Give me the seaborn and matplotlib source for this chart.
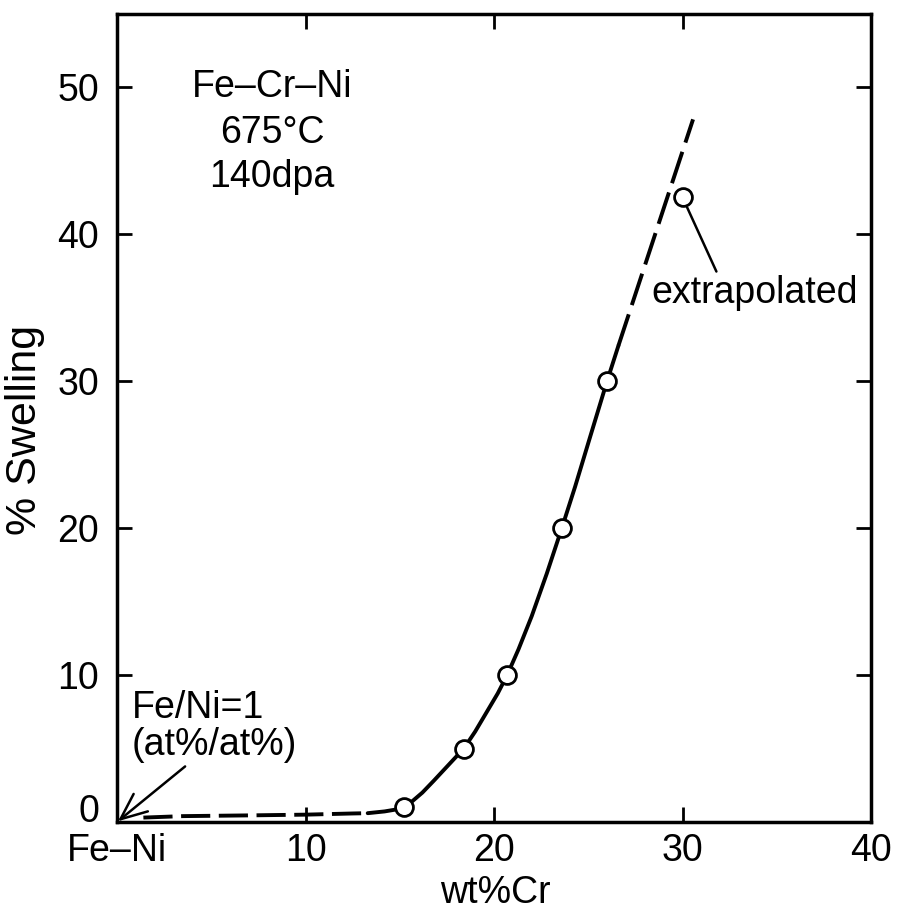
import matplotlib
matplotlib.use("Agg")
import matplotlib.pyplot as plt
import seaborn as sns
import pandas as pd

# Measured swelling of Fe-Cr-Ni alloys (675 C, 140 dpa)
cr_wt = [15.2, 18.4, 20.7, 23.6, 26.0]
swelling = [1.0, 5.0, 10.0, 20.0, 30.0]

# Extrapolated value
extrap_cr = [30.0]
extrap_swelling = [42.5]

# Hand-drawn trend curve: dashed low-Cr part, solid fitted part, dashed extension
low_cr = [1.4, 3.5, 7.0, 10.0, 12.5, 13.3]
low_sw = [0.30, 0.40, 0.45, 0.50, 0.58, 0.60]
fit_cr = [13.3, 14.2, 14.8, 15.2, 15.7, 16.2, 16.8, 17.6, 18.4, 19.0, 19.6,
          20.2, 20.7, 21.3, 22.0, 22.8, 23.6, 24.3, 25.1, 26.0, 26.6]
fit_sw = [0.60, 0.72, 0.85, 1.0, 1.45, 2.0, 2.8, 3.9, 5.0, 6.15, 7.45,
          8.75, 10.0, 11.75, 14.0, 16.9, 20.0, 22.8, 26.2, 30.0, 32.4]
ext_cr = [26.6, 30.56]
ext_sw = [32.4, 47.8]

x_ticks = [0, 10, 20, 30, 40]
x_tick_labels = ["Fe\u2013Ni", "10", "20", "30", "40"]
y_ticks = [0, 10, 20, 30, 40, 50]

condition_lines = ["Fe\u2013Cr\u2013Ni", "675\u00b0C", "140dpa"]

sns.set_style("ticks")
plt.rcParams["font.family"] = ["Liberation Sans", "DejaVu Sans"]
plt.rcParams.update({"text.color": "black", "axes.labelcolor": "black",
                     "xtick.color": "black", "ytick.color": "black"})

fig = plt.figure(figsize=(8.98, 9.14), dpi=100)
ax = fig.add_axes([117 / 898, 1 - 822 / 914, 754 / 898, 808.5 / 914])

lw = 2.8
low_df = pd.DataFrame({"cr": low_cr, "sw": low_sw})
fit_df = pd.DataFrame({"cr": fit_cr, "sw": fit_sw})
ext_df = pd.DataFrame({"cr": ext_cr, "sw": ext_sw})

sns.lineplot(data=low_df, x="cr", y="sw", ax=ax, color="black", lw=lw,
             sort=False, estimator=None)
ax.lines[-1].set_dashes([7.5, 2.2])
sns.lineplot(data=fit_df, x="cr", y="sw", ax=ax, color="black", lw=lw,
             sort=False, estimator=None)
sns.lineplot(data=ext_df, x="cr", y="sw", ax=ax, color="black", lw=lw,
             sort=False, estimator=None)
ax.lines[-1].set_dashes([8.5, 2.5])

pts = pd.DataFrame({"cr": cr_wt + extrap_cr, "sw": swelling + extrap_swelling})
sns.scatterplot(data=pts, x="cr", y="sw", ax=ax, s=165, color="white",
                edgecolor="black", linewidth=2.0, zorder=5)

ax.set_xlim(0, 40)
ax.set_ylim(0, 55)
ax.set_xticks(x_ticks)
ax.set_xticklabels(x_tick_labels)
ax.set_yticks(y_ticks)

for side in ["left", "right", "top", "bottom"]:
    ax.spines[side].set_visible(True)
    ax.spines[side].set_linewidth(2.5)
    ax.spines[side].set_color("black")

ax.tick_params(axis="both", which="major", direction="in", length=11,
               width=2.0, color="black", labelsize=27, top=True, right=True)
ax.tick_params(axis="y", pad=13)
ax.tick_params(axis="x", pad=8)
# the "0" at the origin sits just above the Fe-Ni label
ax.get_yticklabels()[0].set_verticalalignment("baseline")

ax.set_xlabel("wt%Cr", fontsize=27)
ax.set_ylabel("% Swelling", fontsize=31)
ax.xaxis.label.set_verticalalignment("baseline")
ax.xaxis.set_label_coords(0.502, -0.1002)
ax.yaxis.set_label_coords(-0.0955, 0.485)

for text, ypos in zip(condition_lines, [0.8968, 0.8399, 0.7854]):
    ax.text(0.2056, ypos, text, transform=ax.transAxes, fontsize=27,
            ha="center", va="baseline")

ax.annotate("extrapolated", xy=(30.0, 42.5), xytext=(33.85, 36.0),
            fontsize=27, ha="center", va="center",
            arrowprops=dict(arrowstyle="-", color="black", lw=1.8,
                            shrinkA=0, shrinkB=8, relpos=(0.32, 1.0)))

ax.annotate("Fe/Ni=1\n(at%/at%)", xy=(0.05, 0.05), xytext=(0.8, 6.5),
            fontsize=27, ha="left", va="center", linespacing=1.05,
            arrowprops=dict(arrowstyle="->,head_length=0.7,head_width=0.3",
                            color="black", lw=1.8, shrinkA=0, shrinkB=0,
                            relpos=(0.345, 0.0)))

fig.savefig("out.png", dpi=100)
